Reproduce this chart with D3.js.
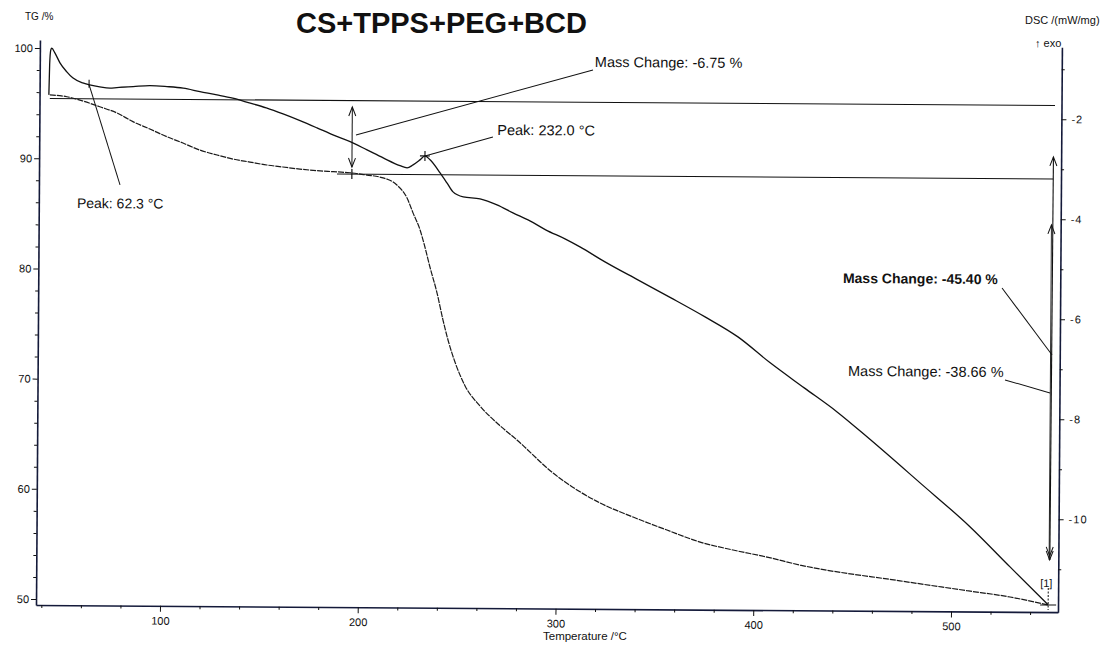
<!DOCTYPE html>
<html><head><meta charset="utf-8">
<script src="https://cdn.jsdelivr.net/npm/d3@7"></script>
<style>
body{margin:0;background:#fff;}
svg{display:block;background:#fff;}
text{font-family:"Liberation Sans",Arial,sans-serif;fill:#111;}
</style>
</head><body>
<svg id="c" width="1108" height="647"></svg>
<script>
// ---------- data ----------
const chartTitle = "CS+TPPS+PEG+BCD";
const xLabel = "Temperature /°C";
const yLeftLabel = "TG /%";
const yRightLabel = "DSC /(mW/mg)";
const tempTicks = [100, 200, 300, 400, 500];
const tempMinorTicks = [40,60,80,120,140,160,180,220,240,260,280,320,340,360,380,420,440,460,480,520,540];
const tgTicks = [50, 60, 70, 80, 90, 100];
const tgMinorTicks = [52,54,56,58,62,64,66,68,72,74,76,78,82,84,86,88,92,94,96,98];
const dscTicks = [-10, -8, -6, -4, -2];
const dscMinorTicks = [-11, -9, -7, -5, -3, -1];

// DSC curve (mW/mg) vs temperature (°C)
const dscTemp = [42.0,42.3,42.8,43.3,44.9,47.5,51.0,54.0,59.1,62.6,67.7,72.9,76.4,84.6,93.1,101.7,109.9,118.4,127.0,135.0,143.4,152.0,160.5,169.1,177.7,185.8,194.5,203.1,211.3,219.8,223.4,226.4,229.9,232.4,235.0,240.1,243.6,246.7,251.9,260.4,269.0,277.1,285.7,293.7,303.5,311.1,323.8,340.5,357.3,374.6,391.3,407.7,425.0,441.7,458.7,483.9,509.4,529.7,549.1];
const dscValue = [-1.656,-1.05,-0.76,-0.722,-0.816,-1.014,-1.194,-1.312,-1.412,-1.450,-1.490,-1.514,-1.500,-1.478,-1.456,-1.474,-1.504,-1.570,-1.632,-1.696,-1.788,-1.886,-2.004,-2.136,-2.278,-2.416,-2.548,-2.712,-2.870,-3.022,-3.066,-3.006,-2.904,-2.824,-2.902,-3.162,-3.360,-3.540,-3.638,-3.676,-3.794,-3.952,-4.108,-4.286,-4.464,-4.622,-4.918,-5.274,-5.628,-6.004,-6.400,-6.914,-7.410,-7.886,-8.440,-9.294,-10.168,-10.962,-11.716];

// TG curve (%) vs temperature (°C)
const tgTemp = [42.5,44.1,51.1,59.3,67.8,76.5,84.6,93.2,101.9,110.0,118.6,127.3,135.3,143.9,152.5,160.6,169.2,177.9,186.0,194.6,203.2,209.7,218.3,223.5,226.6,230.2,232.7,235.3,239.0,242.1,244.7,248.3,253.5,261.1,270.3,279.9,298.3,322.2,338.9,356.1,372.9,389.6,406.8,423.5,474.1,508.0,529.8,549.1];
const tgValue = [95.75,95.74,95.60,95.22,94.71,94.16,93.38,92.72,92.03,91.47,90.84,90.41,90.05,89.79,89.53,89.36,89.18,89.05,88.97,88.88,88.68,88.51,87.80,86.62,85.26,83.73,82.19,80.38,78.02,75.57,73.77,71.77,69.61,67.80,66.18,64.74,61.76,59.07,57.82,56.66,55.59,54.89,54.27,53.57,52.20,51.35,50.80,50.10];

// mass-change evaluation levels (%) and peaks
const massLevels = [95.43, 88.76, 50.10];
const massChanges = [-6.75, -45.40, -38.66];
const peakTemps = [62.3, 232.0];

// ---------- drawing ----------
const svg = d3.select("#c");
const g = svg.append("g").attr("transform", "rotate(0.4,36,605)");

const x = d3.scaleLinear().domain([37.3, 554.1]).range([36, 1058]);
const yTG = d3.scaleLinear().domain([49.46, 100.73]).range([605, 40]);
const yDSC = d3.scaleLinear().domain([-11.86, -0.56]).range([605, 40]);

const ink = "#111";
function styleAxis(sel, fs) {
  sel.selectAll("text").style("font-family", '"Liberation Sans",Arial,sans-serif').style("font-size", fs + "px").attr("fill", ink);
  sel.selectAll(".tick line").attr("stroke", ink).attr("stroke-width", 1);
  sel.select(".domain").attr("stroke", "#141a3a").attr("stroke-width", 1.6);
}

// left TG axis
const aL = g.append("g").attr("transform", "translate(36,0)")
  .call(d3.axisLeft(yTG).tickValues(tgTicks).tickSize(5).tickPadding(2).tickSizeOuter(0).tickFormat(d => String(d)));
styleAxis(aL, 11);
const aLm = g.append("g").attr("transform", "translate(36,0)")
  .call(d3.axisLeft(yTG).tickValues(tgMinorTicks).tickSize(3).tickFormat(""));
aLm.select(".domain").remove(); styleAxis(aLm, 11);

// bottom temperature axis
const aB = g.append("g").attr("transform", "translate(0,605)")
  .call(d3.axisBottom(x).tickValues(tempTicks).tickSize(6).tickPadding(5).tickSizeOuter(0).tickFormat(d => String(d)));
styleAxis(aB, 11);
const aBm = g.append("g").attr("transform", "translate(0,605)")
  .call(d3.axisBottom(x).tickValues(tempMinorTicks).tickSize(3).tickFormat(""));
aBm.select(".domain").remove(); styleAxis(aBm, 11);

// right DSC axis
const aR = g.append("g").attr("transform", "translate(1058,0)")
  .call(d3.axisRight(yDSC).tickValues(dscTicks).tickSize(5).tickPadding(5).tickSizeOuter(0).tickFormat(d => String(d)));
styleAxis(aR, 11);
aR.selectAll("text").attr("letter-spacing", "1px");
const aRm = g.append("g").attr("transform", "translate(1058,0)")
  .call(d3.axisRight(yDSC).tickValues(dscMinorTicks).tickSize(3).tickFormat(""));
aRm.select(".domain").remove(); styleAxis(aRm, 11);

// mass-change baselines
g.append("line").attr("x1", x(42.5)).attr("x2", x(550.8)).attr("y1", yTG(massLevels[0])).attr("y2", yTG(massLevels[0]))
  .attr("stroke", ink).attr("stroke-width", 1.1);
g.append("line").attr("x1", x(188)).attr("x2", x(550.1)).attr("y1", yTG(massLevels[1])).attr("y2", yTG(massLevels[1]))
  .attr("stroke", ink).attr("stroke-width", 1.1);

// curves
const dscData = dscTemp.map((t, i) => [t, dscValue[i]]);
const tgData = tgTemp.map((t, i) => [t, tgValue[i]]);
g.append("path").datum(tgData)
  .attr("d", d3.line().x(d => x(d[0])).y(d => yTG(d[1])).curve(d3.curveMonotoneX))
  .attr("fill", "none").attr("stroke", "#1a1a1a").attr("stroke-width", 1.2).attr("stroke-dasharray", "6,1");
g.append("path").datum(dscData)
  .attr("d", d3.line().x(d => x(d[0])).y(d => yDSC(d[1])).curve(d3.curveMonotoneX))
  .attr("fill", "none").attr("stroke", ink).attr("stroke-width", 1.3);

// helpers
function seg(x1, y1, x2, y2, w, dash) {
  const l = g.append("line").attr("x1", x1).attr("y1", y1).attr("x2", x2).attr("y2", y2)
    .attr("stroke", ink).attr("stroke-width", w || 1);
  if (dash) l.attr("stroke-dasharray", dash);
  return l;
}
function head(px, py, dir) { // dir -1: pointing up, +1: pointing down
  g.append("path").attr("d", `M${px - 3.5},${py - dir * 9}L${px},${py}L${px + 3.5},${py - dir * 9}`)
    .attr("fill", "none").attr("stroke", ink).attr("stroke-width", 1);
}
function dscAt(t) { return d3.scaleLinear().domain(dscTemp).range(dscValue)(t); }

// first mass change arrow
const t1 = 195.5;
seg(x(t1), yTG(94.85), x(t1), yTG(89.4), 1);
head(x(t1), yTG(94.85), -1); head(x(t1), yTG(89.4), 1);
seg(x(t1), yTG(massLevels[1]) - 5, x(t1), yTG(massLevels[1]) + 5, 1.2);
seg(x(197.45), yTG(92.31), x(317.05), yTG(98.36), 1);

// right-hand arrows
const tR = 550.2;
seg(x(tR), yTG(90.76), x(tR) - 0.8, yTG(54.19), 1.1);
seg(x(tR) - 1.5, yTG(84.59), x(tR) - 1.5, yTG(54.19), 0.9);
head(x(tR), yTG(90.76), -1); head(x(tR) - 1.5, yTG(84.59), -1);
head(x(tR) - 1, yTG(54.19), 1); head(x(tR) - 1, yTG(54.19) - 4, 1);
seg(x(524.66), yTG(78.84), x(550.2), yTG(72.79), 1);
seg(x(526.5), yTG(70.5), x(549.3), yTG(69.34), 1);

// end marker
const tEnd = 549.1;
seg(x(tEnd), yTG(massLevels[2]) - 17, x(tEnd), yTG(massLevels[2]) + 5, 1, "2,1.5");
seg(x(tEnd) - 8, yTG(massLevels[2]), x(tEnd) + 8, yTG(massLevels[2]), 1);

// peak markers
const p1x = x(peakTemps[0]), p1y = yDSC(dscAt(peakTemps[0]));
seg(p1x, p1y - 5, p1x, p1y + 3, 1.1);
seg(p1x, p1y, x(78.3), yTG(87.63), 1);
const p2x = x(peakTemps[1] + 0.4), p2y = yDSC(dscAt(peakTemps[1] + 0.4));
seg(p2x, p2y - 5, p2x, p2y + 5, 1.1);
seg(p2x - 5, p2y, p2x + 5, p2y, 1.1);
seg(p2x, p2y, x(266.7), yTG(92.22), 1);

// annotation texts
function label(txt, t, v, bold, fs) {
  g.append("text").attr("x", x(t)).attr("y", yTG(v)).text(txt)
    .style("font-size", (fs || 14) + "px").style("font-weight", bold ? "bold" : "normal");
}
label("Mass Change: " + massChanges[0].toFixed(2) + " %", 318, 98.64, false, 14.5);
label("Peak: " + peakTemps[1].toFixed(1) + " °C", 268.9, 92.41, false, 14.5);
label("Peak: " + peakTemps[0].toFixed(1) + " °C", 56.6, 85.51, false, 14);
label("Mass Change: " + massChanges[1].toFixed(2) + " %", 444.2, 79.19, true, 14);
label("Mass Change: " + massChanges[2].toFixed(2) + " %", 447.1, 70.76, false, 14.5);
label("[1]", 545.0, 51.73, false, 11);

// titles (outside rotation)
svg.append("text").attr("x", 296).attr("y", 33).text(chartTitle)
  .style("font-size", "29px").style("font-weight", "bold");
svg.append("text").attr("x", 25).attr("y", 20).text(yLeftLabel).style("font-size", "10px");
svg.append("text").attr("x", 1025).attr("y", 24).text(yRightLabel).style("font-size", "11px");
svg.append("text").attr("x", 1035).attr("y", 47).text("↑ exo").style("font-size", "11px");
svg.append("text").attr("x", 543).attr("y", 640).text(xLabel).style("font-size", "11.5px");
</script>
</body></html>
